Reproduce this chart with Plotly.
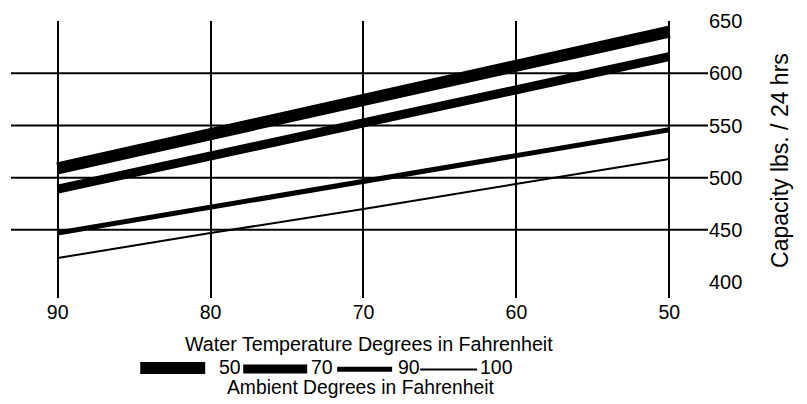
import plotly.graph_objects as go

# ---- data ----
water_temp = [90, 80, 70, 60, 50]
ambient_labels = ["50", "70", "90", "100"]
cap_50 = [509, 542, 575, 607, 640]
cap_70 = [489, 521, 553, 584, 616]
cap_90 = [447, 472, 496, 521, 546]
cap_100 = [423, 447, 470, 494, 518]
y_ticks = [400, 450, 500, 550, 600, 650]
grid_y = [450, 500, 550, 600]

series = [cap_50, cap_70, cap_90, cap_100]
widths = [12, 9, 5, 2]

W, H = 807, 404
L, R, T, B = 10.7, 708, 15, 298
FONT = "Liberation Sans, Arial, sans-serif"

def px(x):
    return (x - L) / (R - L)

def py(y):
    return (B - y) / (B - T)

fig = go.Figure()
for name, vals, w in zip(ambient_labels, series, widths):
    fig.add_trace(go.Scatter(x=water_temp, y=vals, mode="lines", name=name,
                             line=dict(color="black", width=w), showlegend=False,
                             hoverinfo="skip"))

shapes = []
for g in grid_y:
    shapes.append(dict(type="line", xref="paper", yref="y", x0=0, x1=1, y0=g, y1=g,
                       line=dict(color="black", width=2), layer="below"))

# custom legend row
leg = [  # swatch x0, x1, y, label x
    (140, 205, 369.5, 217),
    (243, 307, 370.5, 309),
    (337, 392, 370.8, 396),
    (420, 477, 371, 478),
]
annotations = []
for (x0, x1, yy, lx), lab, w in zip(leg, ambient_labels, widths):
    shapes.append(dict(type="line", xref="paper", yref="paper", x0=px(x0), x1=px(x1),
                       y0=py(yy), y1=py(yy), line=dict(color="black", width=w)))
    annotations.append(dict(text=lab, xref="paper", yref="paper", x=px(lx), y=py(368),
                            xanchor="left", yanchor="middle", showarrow=False,
                            font=dict(size=19.5, color="black", family=FONT)))

annotations.append(dict(text="Water Temperature Degrees in Fahrenheit", xref="paper", yref="paper",
                        x=px(369), y=py(345), xanchor="center", yanchor="middle", showarrow=False,
                        font=dict(size=19.7, color="black", family=FONT)))
annotations.append(dict(text="Ambient Degrees in Fahrenheit", xref="paper", yref="paper",
                        x=px(361), y=py(389), xanchor="center", yanchor="middle", showarrow=False,
                        font=dict(size=19.3, color="black", family=FONT)))
annotations.append(dict(text="Capacity lbs. / 24 hrs", xref="paper", yref="paper",
                        x=px(780), y=py(157), xanchor="center", yanchor="middle", showarrow=False,
                        textangle=-90, font=dict(size=23, color="black", family=FONT)))

fig.update_layout(
    width=W, height=H,
    margin=dict(l=L, r=W - R, t=T, b=H - B),
    paper_bgcolor="white", plot_bgcolor="white",
    font=dict(family=FONT, color="black", size=19),
    shapes=shapes, annotations=annotations,
    xaxis=dict(range=[93.05, 47.47], tickvals=water_temp, showgrid=True, gridcolor="black",
               gridwidth=2, zeroline=False, showline=False, ticks="",
               tickfont=dict(size=19.5)),
    yaxis=dict(range=[384.7, 650.2], side="right", tickvals=y_ticks, showgrid=False,
               zeroline=False, showline=False, ticks="", tickfont=dict(size=20)),
)
fig.write_html("out.html", config={"displayModeBar": False},
               post_script="document.body.style.margin='0';document.body.style.overflow='hidden';")
